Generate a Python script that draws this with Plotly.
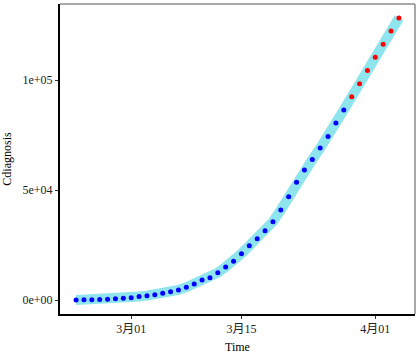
import plotly.graph_objects as go
import pandas as pd

# ---- data ----
start_date = "2020-02-23"
observed = [80, 150, 230, 320, 450, 650, 890, 1130, 1690, 2040, 2500, 3090,
            3860, 4640, 5880, 7380, 9170, 10150, 12460, 15110, 17660, 21160,
            24750, 27980, 31510, 35710, 41040, 47020, 53580, 59140, 63930,
            69180, 74390, 80590, 86500]
predicted = [92500, 98450, 104500, 110450, 116400, 122400, 128300]
tick_dates = ["2020-03-01", "2020-03-15", "2020-04-01"]
tick_labels = ["3月01", "3月15", "4月01"]
y_ticks = [0, 50000, 100000]
y_tick_labels = ["0e+00", "5e+04", "1e+05"]

all_vals = observed + predicted
dates = pd.date_range(start_date, periods=len(all_vals), freq="D")
obs_dates = dates[:len(observed)]
pred_dates = dates[len(observed):]

FONT = "Liberation Serif, Times New Roman, Noto Sans CJK SC, serif"

fig = go.Figure()
fig.add_trace(go.Scatter(x=dates, y=all_vals, mode="lines",
                         line=dict(color="#8EE5EE", width=10),
                         hoverinfo="skip", showlegend=False))
fig.add_trace(go.Scatter(x=obs_dates, y=observed, mode="markers",
                         marker=dict(color="#0000FF", size=5, line=dict(width=0)),
                         showlegend=False))
fig.add_trace(go.Scatter(x=pred_dates, y=predicted, mode="markers",
                         marker=dict(color="#FF0000", size=5, line=dict(width=0)),
                         showlegend=False))

fig.update_layout(
    width=420, height=355,
    margin=dict(l=60, r=5, t=4, b=41),
    paper_bgcolor="white", plot_bgcolor="white",
    font=dict(family=FONT, color="black", size=12),
    xaxis=dict(
        range=["2020-02-20 23:00", "2020-04-06 01:00"],
        tickvals=tick_dates, ticktext=tick_labels,
        showgrid=False, zeroline=False,
        showline=True, linecolor="black", linewidth=2,
        ticks="outside", ticklen=3, tickcolor="#333333", tickwidth=1,
        tickfont=dict(size=12, color="#222222"),
        title=dict(text="Time", font=dict(size=12), standoff=7),
    ),
    yaxis=dict(
        range=[-6300, 134700],
        tickvals=y_ticks, ticktext=y_tick_labels,
        showgrid=False, zeroline=False,
        showline=True, linecolor="black", linewidth=2,
        ticks="outside", ticklen=3, tickcolor="#333333", tickwidth=1,
        tickfont=dict(size=12, color="#222222"),
        title=dict(text="Cdiagnosis", font=dict(size=12), standoff=8),
    ),
    shapes=[
        dict(type="line", xref="paper", yref="paper", x0=0, x1=1, y0=1, y1=1,
             line=dict(color="#8c8c8c", width=1.5)),
        dict(type="line", xref="paper", yref="paper", x0=1, x1=1, y0=0, y1=1,
             line=dict(color="#8c8c8c", width=1.5)),
    ],
)

fig.write_html("out.html", config={"displayModeBar": False},
               post_script="document.body.style.margin='0';")
